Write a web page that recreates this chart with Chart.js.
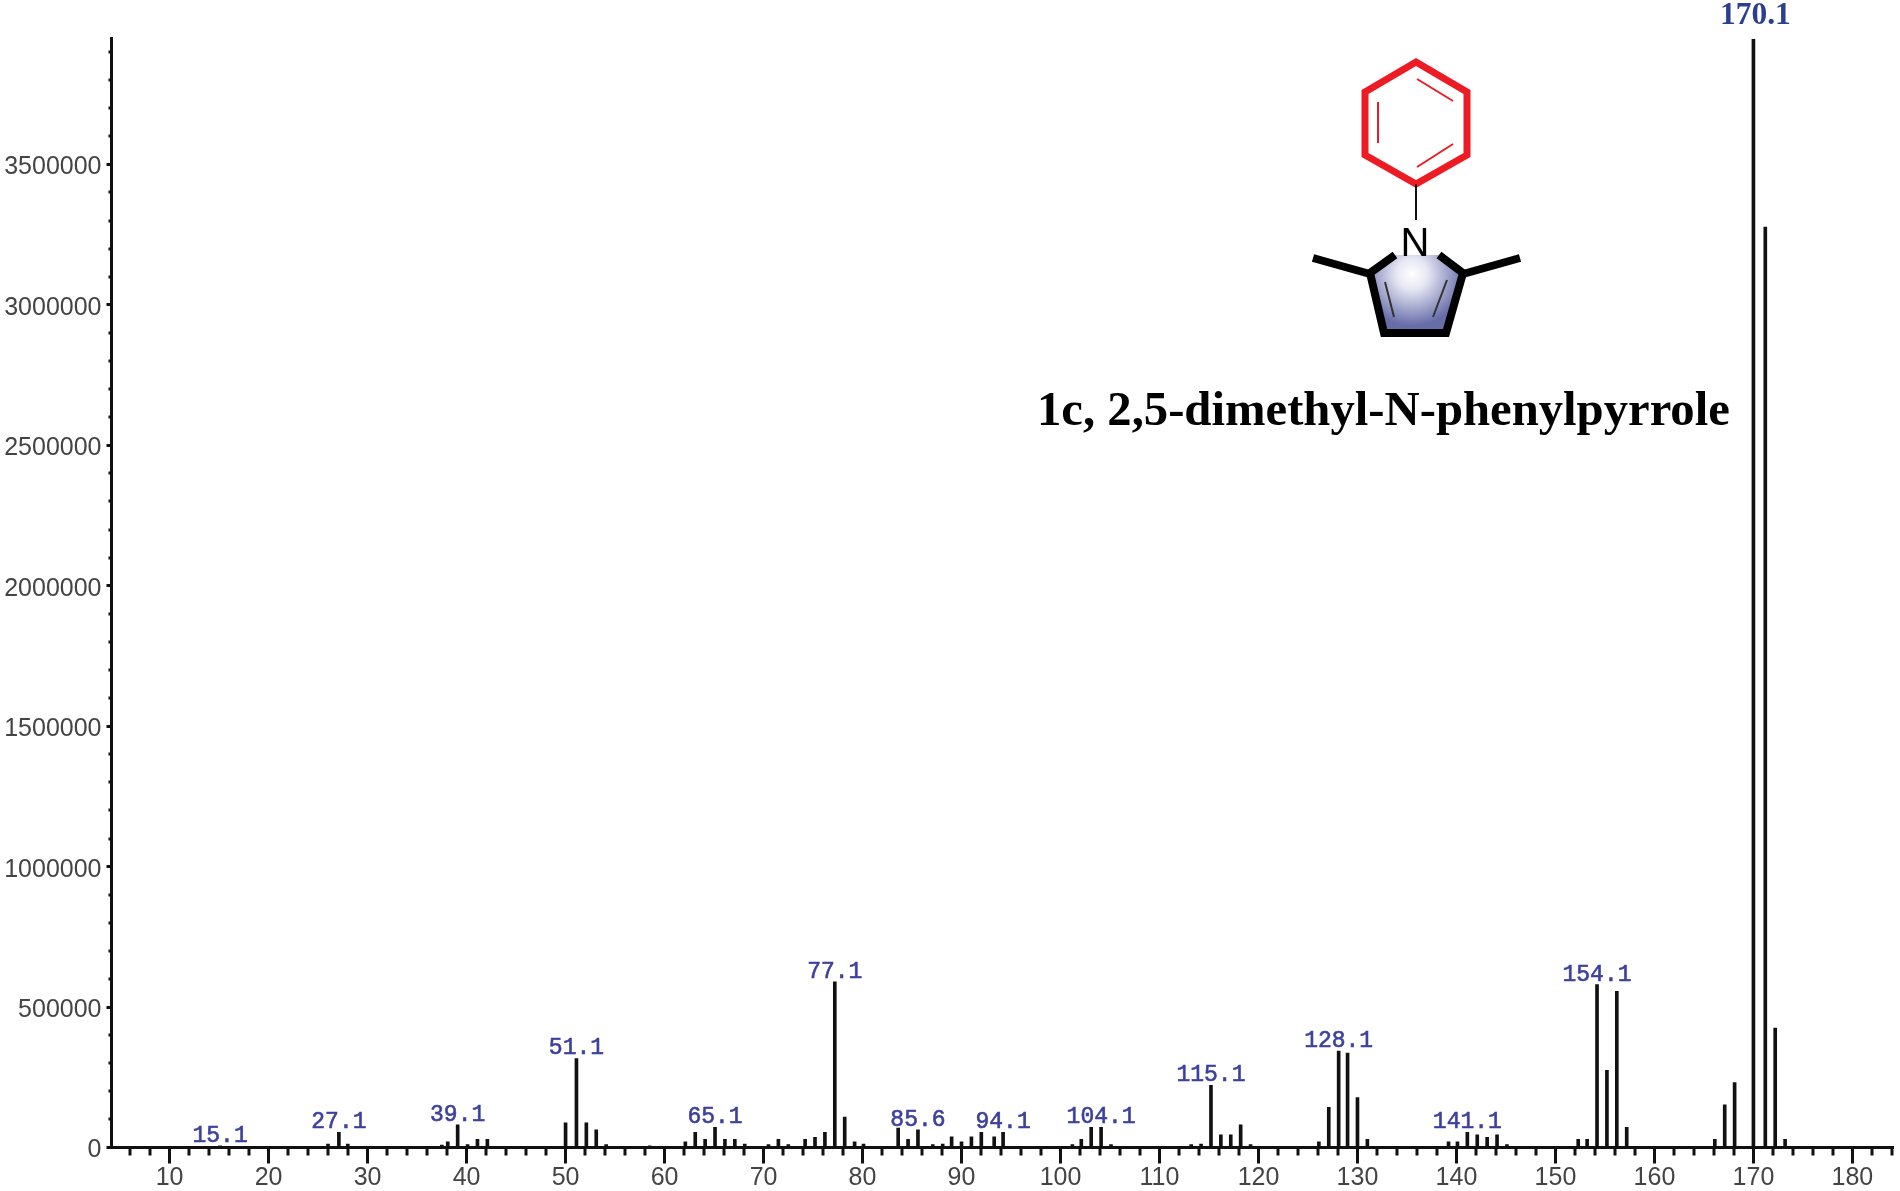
<!DOCTYPE html>
<html>
<head>
<meta charset="utf-8">
<title>1c, 2,5-dimethyl-N-phenylpyrrole</title>
<script src="https://cdn.jsdelivr.net/npm/chart.js@4"></script>
<style>
  html, body { margin: 0; padding: 0; background: #fff; overflow: hidden; }
  #wrap { position: relative; width: 1900px; height: 1191px; filter: blur(0.5px); }
  #spectrum { position: absolute; left: 0; top: 0; }
  #molecule { position: absolute; left: 0; top: 0; pointer-events: none; }
</style>
</head>
<body>
<div id="wrap">
  <canvas id="spectrum" width="1900" height="1191"></canvas>
  <svg id="molecule" width="1900" height="1191">
    <defs>
      <radialGradient id="ringFill" gradientUnits="userSpaceOnUse" cx="1412" cy="274" r="52">
        <stop offset="0" stop-color="#ffffff"/>
        <stop offset="0.3" stop-color="#e6e7f3"/>
        <stop offset="1" stop-color="#666da9"/>
      </radialGradient>
    </defs>
    <g fill="none" stroke="#ed1c24" stroke-linejoin="miter">
      <polygon stroke-width="7" points="1416,62 1467,92 1467,155 1416,184 1365,155 1365,92"/>
      <line stroke-width="2" x1="1417" y1="79" x2="1453" y2="101"/>
      <line stroke-width="2" x1="1378" y1="102" x2="1378" y2="143"/>
      <line stroke-width="2" x1="1417" y1="167" x2="1453" y2="144"/>
    </g>
    <line stroke="#111" stroke-width="2" x1="1416" y1="184" x2="1416" y2="220"/>
    <polygon fill="url(#ringFill)" points="1394,255 1440,255 1463,272 1447,333 1383,333 1370,272"/>
    <g fill="none" stroke="#000">
      <polyline stroke-width="8" points="1395,255 1370,273 1384,333 1446,333 1463,273 1439,255"/>
      <line stroke-width="8" x1="1313" y1="258" x2="1370" y2="274"/>
      <line stroke-width="8" x1="1520" y1="258" x2="1463" y2="274"/>
      <line stroke="#333" stroke-width="2" x1="1385" y1="282" x2="1394" y2="317"/>
      <line stroke="#333" stroke-width="2" x1="1447" y1="280" x2="1433" y2="317"/>
    </g>
    <text x="1415" y="256" text-anchor="middle" font-family="Liberation Sans" font-size="40" fill="#000">N</text>
    <text x="1037" y="425" font-family="Liberation Serif" font-weight="bold" font-size="48.7" fill="#000">1c, 2,5-dimethyl-N-phenylpyrrole</text>
  </svg>
</div>
<script>
const mz = [
  15.1, 26, 27.1, 28, 37.5, 38.1, 39.1, 40.1, 41.1, 42.1, 50, 51.1, 52.1, 53.1, 54.1, 58.5,
  62.1, 63.1, 64.1, 65.1, 66.1, 67.1, 68.1, 70.5, 71.5, 72.5, 74.2, 75.2, 76.2, 77.2, 78.2, 79.2, 80.1,
  83.6, 84.6, 85.6, 87.1, 88.1, 89, 90, 91, 92, 93.3, 94.2,
  101.2, 102.1, 103.1, 104.1, 105.1, 113.2, 114.2, 115.2, 116.2, 117.2, 118.2, 119.2,
  126.1, 127.1, 128.1, 129, 130, 131,
  139.2, 140.1, 141.1, 142.1, 143.1, 144.1, 145.1,
  152.3, 153.2, 154.2, 155.2, 156.2, 157.2,
  166.1, 167.1, 168.1, 170, 171.2, 172.2, 173.2
];
const intensity = [
  6000, 12000, 54000, 12000, 9000, 20000, 81000, 10000, 29000, 29000, 88000, 317000, 88000, 63000, 10000, 6000,
  20000, 54000, 29000, 72000, 29000, 29000, 12000, 10000, 29000, 10000, 29000, 36000, 54000, 590000, 108000, 20000, 12000,
  69000, 29000, 63000, 10000, 12000, 38000, 20000, 38000, 54000, 38000, 54000,
  10000, 29000, 72000, 72000, 10000, 10000, 12000, 221000, 45000, 45000, 81000, 10000,
  20000, 143000, 343000, 336000, 178000, 29000,
  20000, 20000, 54000, 45000, 36000, 45000, 10000,
  29000, 29000, 580000, 275000, 556000, 72000,
  29000, 152000, 231000, 3945000, 3277000, 425000, 29000
];
const peakLabels = ["15.1", "27.1", "39.1", "51.1", "65.1", "77.1", "85.6", "94.1", "104.1", "115.1", "128.1", "141.1", "154.1"];
const peakLabelMz = [15.1, 27.1, 39.1, 51.1, 65.1, 77.2, 85.6, 94.2, 104.1, 115.2, 128.1, 141.1, 154.2];
const baseLabel = "170.1";
const baseLabelMz = 170;

const xMajorTicks = [10, 20, 30, 40, 50, 60, 70, 80, 90, 100, 110, 120, 130, 140, 150, 160, 170, 180];
const yMajorTicks = [0, 500000, 1000000, 1500000, 2000000, 2500000, 3000000, 3500000];
const xMinorTicks = [];
for (let v = 6; v <= 184; v += 2) if (v % 10 !== 0) xMinorTicks.push(v);
const yMinorTicks = [];
for (let v = 100000; v <= 3900000; v += 100000) if (v % 500000 !== 0) yMinorTicks.push(v);

const decorations = {
  id: "decorations",
  afterDraw(chart) {
    const { ctx, scales: { x, y }, chartArea } = chart;
    ctx.save();
    // minor ticks
    ctx.strokeStyle = "#111";
    ctx.lineWidth = 3;
    ctx.beginPath();
    xMinorTicks.forEach((v) => {
      const px = Math.round(x.getPixelForValue(v));
      ctx.moveTo(px, chartArea.bottom);
      ctx.lineTo(px, chartArea.bottom + 8);
    });
    yMinorTicks.forEach((v) => {
      const py = Math.round(y.getPixelForValue(v));
      ctx.moveTo(chartArea.left, py);
      ctx.lineTo(chartArea.left - 3, py);
    });
    ctx.stroke();

    // peak labels
    ctx.textAlign = "center";
    ctx.textBaseline = "alphabetic";
    ctx.fillStyle = "#3d419c";
    ctx.strokeStyle = "#3d419c";
    ctx.lineWidth = 0.6;
    ctx.font = "23px 'Liberation Mono'";
    peakLabels.forEach((text, i) => {
      const m = peakLabelMz[i];
      const top = y.getPixelForValue(intensity[mz.indexOf(m)]);
      const px = x.getPixelForValue(m);
      ctx.fillText(text, px, top - 4);
      ctx.strokeText(text, px, top - 4);
    });
    ctx.fillStyle = "#2a3f8f";
    ctx.font = "bold 31.5px 'Liberation Serif'";
    ctx.fillText(baseLabel, x.getPixelForValue(baseLabelMz) + 2, 24);
    ctx.restore();
  },
};

new Chart(document.getElementById("spectrum"), {
  type: "bar",
  data: {
    datasets: [
      {
        label: "Intensity",
        data: mz.map((m, i) => ({ x: m, y: intensity[i] })),
        backgroundColor: "#111",
        barThickness: 3,
      },
    ],
  },
  options: {
    responsive: false,
    animation: false,
    layout: { padding: { top: 38, right: 7, bottom: 0, left: 0 } },
    plugins: {
      legend: { display: false },
      tooltip: { enabled: false },
    },
    scales: {
      x: {
        type: "linear",
        offset: false,
        min: 4.13,
        max: 184.1,
        afterFit: (scale) => { scale.height = 43.5; },
        afterBuildTicks: (scale) => {
          scale.ticks = xMajorTicks.map((value) => ({ value }));
        },
        border: { color: "#111", width: 3 },
        grid: { offset: false, drawOnChartArea: false, color: "#111", tickColor: "#111", tickLength: 16, tickWidth: 3 },
        ticks: {
          autoSkip: false,
          maxRotation: 0,
          padding: 0,
          color: "#444",
          font: { family: "Liberation Sans", size: 25 },
        },
      },
      y: {
        min: 0,
        max: 3950000,
        afterFit: (scale) => { scale.width = 111.5; },
        afterBuildTicks: (scale) => {
          scale.ticks = yMajorTicks.map((value) => ({ value }));
        },
        border: { color: "#111", width: 3 },
        grid: { drawOnChartArea: false, color: "#111", tickColor: "#111", tickLength: 5, tickWidth: 3 },
        ticks: {
          autoSkip: false,
          padding: 5,
          labelOffset: 3,
          color: "#444",
          font: { family: "Liberation Sans", size: 25 },
          callback: (v) => String(v),
        },
      },
    },
  },
  plugins: [decorations],
});
</script>
</body>
</html>
